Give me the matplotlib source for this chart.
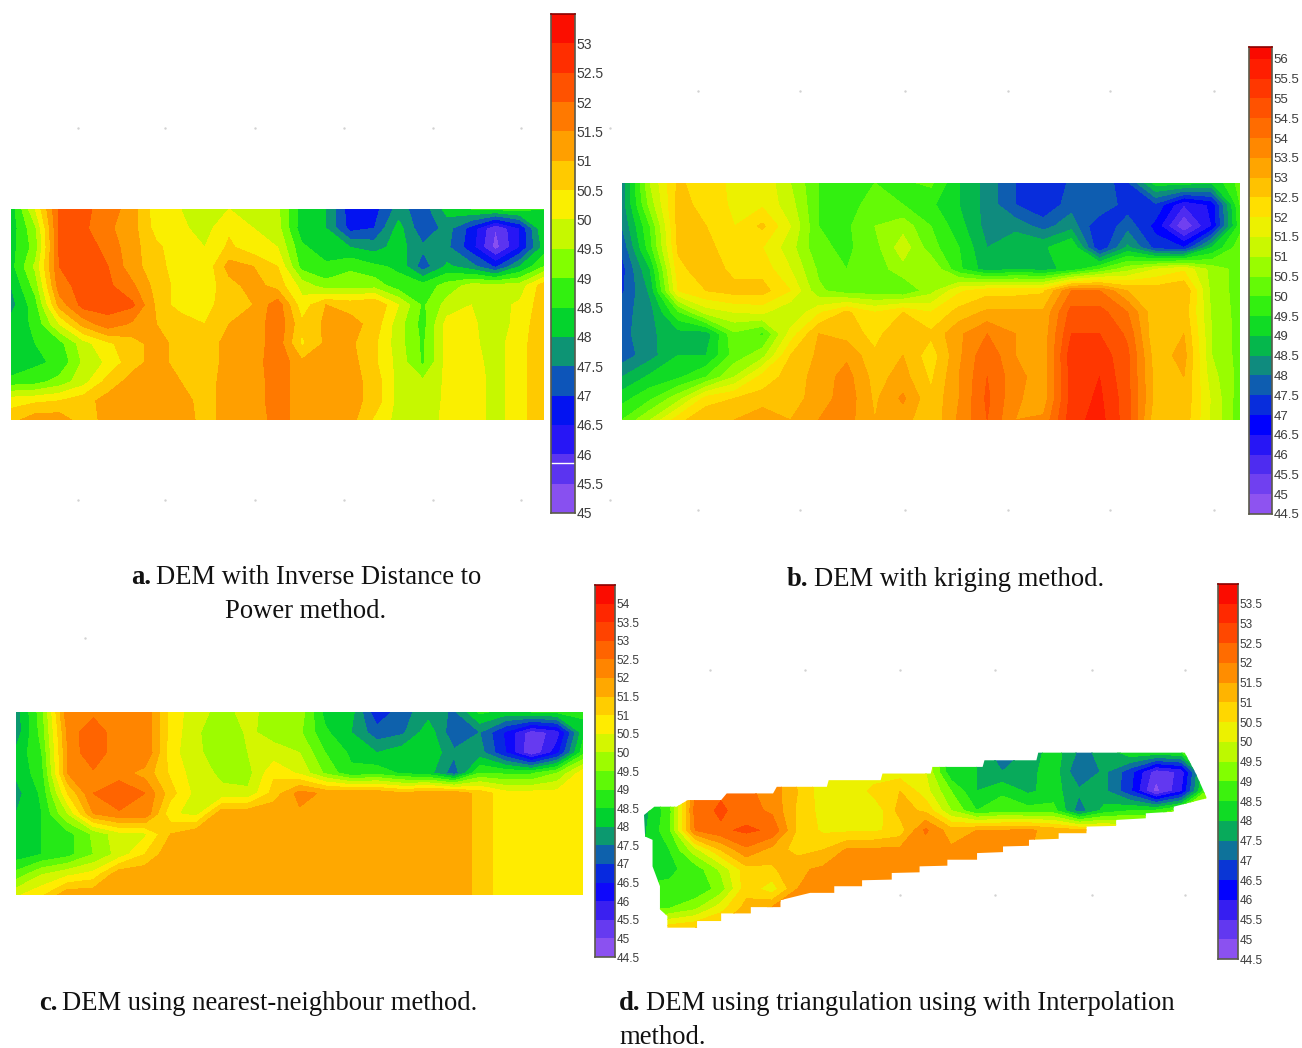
import numpy as np
import matplotlib
matplotlib.use("Agg")
import matplotlib.pyplot as plt
from matplotlib.colors import LinearSegmentedColormap, BoundaryNorm, ListedColormap
from matplotlib.patches import Polygon

W, H = 1302, 1048

# rampa de color, de bajo (morado) a alto (rojo)
ramp_colors = ["#9B5CF0", "#7040F0", "#3A20F0", "#0000FF", "#0D47C8", "#0F8A80",
               "#00D030", "#30F010", "#80FF00", "#C8F800", "#FFEE00", "#FFC400",
               "#FF9600", "#FF6E00", "#FF4500", "#FF2000", "#F80000"]
ramp = LinearSegmentedColormap.from_list("dem", ramp_colors)

# ==============================
# DATOS: elevacion
# ==============================
dem_a = np.array([
    [48.2, 50.0, 52.1, 52.1, 51.8, 51.2, 50.2, 50.0, 49.7, 50.0, 49.9, 49.6, 48.3, 48.0, 46.7, 46.8, 47.7, 47.2, 48.2, 48.5, 48.6, 48.7, 48.5],
    [48.2, 49.4, 52.1, 52.1, 51.6, 51.2, 50.3, 50.1, 49.8, 50.4, 50.0, 49.7, 48.2, 48.0, 46.8, 47.0, 48.2, 47.1, 47.7, 46.8, 45.5, 46.5, 48.5],
    [48.3, 49.2, 52.1, 52.3, 51.8, 51.2, 50.6, 50.2, 50.0, 50.6, 50.2, 50.0, 48.6, 48.2, 48.0, 47.8, 48.2, 47.6, 47.6, 46.7, 45.3, 46.5, 48.2],
    [48.3, 49.6, 52.0, 52.3, 52.0, 51.2, 50.7, 50.2, 50.1, 51.2, 51.0, 50.5, 48.8, 48.6, 48.9, 48.6, 48.4, 47.2, 48.1, 47.7, 46.9, 48.0, 49.0],
    [48.0, 49.2, 51.8, 52.2, 52.1, 51.6, 50.8, 50.3, 50.2, 50.8, 51.2, 50.8, 49.8, 49.2, 49.3, 49.3, 48.7, 48.7, 49.2, 49.7, 49.7, 49.7, 50.8],
    [47.8, 48.8, 51.2, 52.2, 52.2, 52.1, 50.9, 50.2, 50.3, 50.8, 51.0, 51.8, 50.2, 51.0, 50.8, 51.0, 50.0, 48.9, 49.7, 50.0, 49.8, 50.1, 50.8],
    [48.2, 48.6, 50.0, 51.2, 51.8, 51.4, 51.0, 50.9, 50.5, 51.0, 51.1, 51.9, 50.6, 51.1, 51.2, 50.8, 49.7, 48.8, 50.2, 50.1, 49.7, 50.2, 50.9],
    [48.3, 48.5, 48.8, 49.8, 50.4, 50.8, 51.2, 50.8, 50.7, 51.2, 51.2, 51.8, 50.4, 51.1, 51.1, 50.6, 49.7, 48.9, 50.2, 50.1, 49.8, 50.3, 50.9],
    [48.0, 48.4, 48.6, 49.6, 50.1, 50.8, 51.2, 50.8, 50.7, 51.2, 51.2, 51.9, 51.1, 51.1, 51.2, 50.6, 49.8, 48.9, 50.2, 50.2, 49.8, 50.3, 50.9],
    [48.7, 48.8, 49.2, 49.8, 50.7, 51.2, 51.3, 51.0, 50.8, 51.2, 51.2, 51.8, 51.2, 51.2, 51.2, 50.8, 49.8, 49.6, 50.1, 50.3, 49.8, 50.3, 50.9],
    [50.3, 50.4, 50.5, 50.8, 51.2, 51.2, 51.3, 51.2, 50.8, 51.2, 51.2, 51.8, 51.2, 51.2, 51.2, 50.8, 49.8, 49.7, 50.1, 50.3, 49.8, 50.3, 50.9],
    [50.8, 51.3, 51.3, 50.7, 51.2, 51.2, 51.3, 51.3, 50.8, 51.2, 51.2, 51.7, 51.3, 51.2, 51.2, 50.4, 49.8, 49.8, 50.1, 50.3, 49.8, 50.3, 50.9],
])

dem_b = np.array([
    [48.2, 51.0, 52.6, 52.2, 51.9, 51.9, 51.0, 50.0, 49.9, 50.0, 49.9, 50.1, 49.0, 48.3, 47.5, 47.0, 47.6, 47.6, 47.4, 49.2, 49.2, 49.0, 50.2],
    [48.2, 50.7, 52.7, 52.3, 51.9, 51.9, 51.2, 50.0, 49.9, 50.1, 50.0, 49.6, 49.0, 48.3, 47.5, 47.0, 47.8, 48.0, 47.2, 47.4, 46.0, 46.6, 50.0],
    [48.0, 50.0, 52.7, 52.5, 52.0, 52.6, 51.5, 50.0, 49.9, 50.5, 50.8, 50.0, 49.2, 48.3, 48.3, 47.8, 48.3, 47.0, 47.8, 46.8, 45.0, 46.5, 49.8],
    [47.6, 49.8, 52.6, 52.7, 52.1, 52.0, 51.2, 50.1, 49.9, 50.3, 51.3, 50.2, 49.5, 48.5, 49.0, 48.9, 49.5, 47.0, 48.6, 47.3, 47.0, 49.0, 50.3],
    [47.3, 49.0, 52.3, 52.9, 52.3, 52.3, 51.5, 50.4, 50.0, 50.2, 50.8, 51.0, 49.6, 48.7, 49.0, 48.8, 49.2, 50.0, 50.8, 51.5, 51.9, 50.8, 50.3],
    [47.4, 48.6, 52.0, 52.5, 52.7, 52.7, 52.0, 50.6, 50.2, 50.2, 50.0, 50.8, 51.9, 52.3, 52.3, 52.4, 54.0, 54.0, 53.0, 52.8, 53.0, 50.8, 50.3],
    [47.8, 48.3, 49.9, 51.2, 51.5, 51.6, 51.0, 51.9, 52.6, 52.0, 52.5, 52.0, 52.7, 53.1, 53.1, 53.1, 54.7, 54.7, 54.0, 52.6, 52.8, 50.9, 50.3],
    [47.8, 48.4, 48.8, 48.7, 50.4, 49.9, 51.7, 53.0, 52.8, 52.3, 53.0, 52.6, 53.4, 54.0, 53.5, 53.2, 55.0, 55.0, 54.4, 52.5, 53.0, 51.0, 50.3],
    [47.7, 48.3, 49.0, 49.0, 50.2, 50.8, 52.5, 53.1, 53.4, 52.6, 53.0, 52.2, 53.4, 54.4, 53.5, 53.2, 55.3, 55.3, 54.6, 52.7, 53.2, 51.0, 50.3],
    [48.5, 49.1, 49.4, 50.0, 51.0, 52.2, 52.7, 53.2, 53.7, 52.8, 53.2, 52.4, 53.5, 54.5, 53.7, 53.2, 55.2, 55.5, 54.6, 52.8, 53.0, 51.2, 50.3],
    [49.3, 49.9, 50.8, 52.2, 52.5, 52.7, 52.8, 53.2, 53.8, 52.9, 53.6, 52.6, 53.5, 54.6, 53.6, 53.2, 55.2, 55.6, 54.7, 52.8, 52.9, 51.4, 50.2],
    [50.0, 51.0, 52.3, 53.0, 53.0, 53.4, 53.0, 53.5, 53.7, 53.0, 53.2, 52.6, 53.6, 54.5, 53.5, 53.6, 55.3, 55.7, 54.7, 52.6, 52.8, 51.4, 50.2],
])

dem_c = np.array([
    [47.7, 49.3, 52.4, 52.3, 52.0, 52.4, 50.8, 50.2, 49.8, 50.2, 49.7, 49.8, 48.3, 48.2, 46.6, 47.3, 47.8, 47.4, 48.6, 48.3, 48.5, 48.6, 48.6],
    [47.7, 49.2, 52.1, 53.0, 52.0, 52.4, 50.8, 50.1, 49.5, 50.1, 49.8, 49.6, 48.6, 48.0, 47.2, 47.4, 48.3, 47.1, 47.5, 46.4, 45.2, 45.7, 48.3],
    [48.1, 49.0, 52.0, 53.0, 52.0, 52.5, 50.7, 50.1, 49.7, 50.0, 50.2, 50.0, 49.0, 48.4, 48.0, 48.3, 48.4, 47.6, 47.7, 46.5, 45.0, 46.3, 48.8],
    [48.1, 48.8, 52.0, 52.4, 52.2, 51.8, 50.9, 50.2, 49.9, 49.8, 50.9, 50.4, 49.4, 48.6, 48.8, 48.4, 48.2, 47.2, 49.0, 48.9, 48.9, 49.5, 50.8],
    [47.8, 48.6, 51.0, 52.5, 53.0, 52.5, 51.2, 50.3, 50.1, 50.1, 51.2, 52.2, 51.9, 51.9, 51.9, 51.6, 51.9, 51.9, 51.3, 50.7, 50.7, 50.7, 50.7],
    [48.0, 48.5, 50.0, 52.0, 52.4, 52.4, 50.6, 50.3, 51.9, 51.9, 51.9, 51.9, 51.9, 51.9, 51.9, 51.9, 51.9, 51.9, 51.3, 50.7, 50.7, 50.7, 50.7],
    [48.0, 48.5, 48.8, 49.6, 50.3, 50.4, 51.5, 51.9, 51.7, 51.9, 51.9, 51.9, 51.9, 51.9, 51.9, 51.9, 51.9, 51.9, 51.3, 50.7, 50.7, 50.7, 50.7],
    [48.2, 48.5, 48.8, 49.5, 50.2, 51.0, 51.9, 51.9, 51.9, 51.9, 51.9, 51.9, 51.9, 51.9, 51.9, 51.9, 51.9, 51.9, 51.3, 50.7, 50.7, 50.7, 50.7],
    [49.2, 50.0, 50.4, 50.7, 51.9, 51.9, 51.9, 51.9, 51.9, 51.9, 51.9, 51.9, 51.9, 51.9, 51.9, 51.9, 51.9, 51.9, 51.3, 50.7, 50.7, 50.7, 50.7],
    [50.4, 50.9, 51.9, 51.9, 51.9, 51.9, 51.9, 51.9, 51.9, 51.9, 51.9, 51.9, 51.9, 51.9, 51.9, 51.9, 51.9, 51.9, 51.3, 50.7, 50.7, 50.7, 50.7],
])

dem_d = np.array([
    [48.0, 49.0, 51.5, 52.0, 51.5, 50.8, 50.4, 50.4, 50.3, 50.3, 50.3, 50.0, 48.2, 48.0, 47.0, 47.6, 48.3, 47.4, 47.6, 48.4, 48.4, 48.5, 49.0],
    [48.0, 49.0, 51.7, 52.1, 52.0, 51.8, 50.8, 50.2, 50.0, 50.1, 50.2, 50.0, 48.1, 48.0, 47.5, 47.8, 48.3, 47.0, 47.6, 46.7, 45.2, 45.6, 48.8],
    [48.0, 49.2, 52.0, 52.4, 52.1, 51.8, 51.0, 50.2, 50.0, 50.7, 51.0, 50.2, 49.0, 48.0, 48.4, 47.9, 48.2, 47.6, 47.6, 46.6, 44.8, 45.9, 49.0],
    [47.8, 48.8, 52.2, 52.6, 52.2, 51.9, 50.9, 50.3, 50.2, 50.1, 51.2, 50.9, 49.5, 48.5, 48.8, 48.7, 48.7, 47.2, 48.2, 48.5, 48.6, 49.2, 50.5],
    [47.9, 48.9, 52.0, 52.4, 52.6, 52.4, 50.9, 50.4, 50.4, 50.4, 50.7, 52.1, 51.2, 51.5, 51.5, 51.6, 51.3, 51.1, 50.9, 50.5, 50.5, 50.5, 50.5],
    [48.0, 48.5, 49.8, 51.0, 51.9, 51.3, 50.8, 51.0, 51.6, 51.6, 51.6, 51.6, 51.6, 51.6, 51.6, 51.6, 51.0, 51.0, 51.0, 51.0, 51.0, 51.0, 51.0],
    [48.2, 48.4, 48.7, 49.6, 50.8, 50.9, 51.4, 51.6, 51.6, 51.6, 51.6, 51.6, 51.6, 51.6, 51.6, 51.6, 51.0, 51.0, 51.0, 51.0, 51.0, 51.0, 51.0],
    [48.6, 48.6, 48.6, 49.2, 50.8, 50.2, 51.5, 51.6, 51.6, 51.6, 51.6, 51.6, 51.6, 51.6, 51.6, 51.6, 51.0, 51.0, 51.0, 51.0, 51.0, 51.0, 51.0],
    [49.0, 49.0, 49.4, 50.3, 51.2, 51.6, 51.6, 51.6, 51.6, 51.6, 51.6, 51.6, 51.6, 51.6, 51.6, 51.6, 51.0, 51.0, 51.0, 51.0, 51.0, 51.0, 51.0],
    [50.3, 50.8, 51.0, 51.2, 51.4, 51.6, 51.6, 51.6, 51.6, 51.6, 51.6, 51.6, 51.6, 51.6, 51.6, 51.6, 51.0, 51.0, 51.0, 51.0, 51.0, 51.0, 51.0],
])

# contorno escalonado del panel d, en las unidades de la rejilla de dem_d
outline_d_x = [12, 40, 100, 130, 220, 235, 360, 370, 505, 510, 650, 655, 785, 790, 925, 930, 1070, 1075,
               1470, 1500, 1528, 1528, 1440, 1440, 1365, 1365, 1285, 1285, 1205, 1205, 1130, 1130, 1050,
               1050, 980, 980, 910, 910, 830, 830, 755, 755, 680, 680, 600, 600, 525, 525, 460, 380, 380,
               300, 300, 220, 220, 155, 155, 75, 75, 55, 55, 35, 35, 15]
outline_d_y = [225, 200, 200, 180, 180, 160, 160, 140, 140, 120, 120, 100, 100, 80, 80, 60, 60, 37,
               37, 100, 170, 175, 200, 215, 220, 235, 240, 258, 260, 280, 280, 297, 300,
               318, 320, 337, 340, 360, 360, 378, 380, 398, 400, 420, 422, 440, 440, 460, 460, 482, 503,
               503, 522, 522, 545, 545, 565, 565, 530, 510, 440, 380, 300, 290]

# niveles de las barras de color
levels_a = np.arange(45, 53.51, 0.5)
levels_b = np.arange(44.5, 56.51, 0.5)
levels_c = np.arange(44.5, 54.51, 0.5)
levels_d = np.arange(44.5, 54.01, 0.5)
ticks_a = np.arange(45, 53.01, 0.5)
ticks_b = np.arange(44.5, 56.01, 0.5)
ticks_c = np.arange(44.5, 54.01, 0.5)
ticks_d = np.arange(44.5, 53.51, 0.5)

# puntos grises tenues de la reticula alrededor de los mapas
dots_x = [78, 165, 255, 344, 433, 521, 78, 165, 255, 344, 433, 521,
          698, 800, 905, 1008, 1110, 1214, 698, 800, 905, 1008, 1110, 1214,
          85, 710, 805, 900, 995, 1092, 1185, 900, 995, 1092, 1185, 610, 610]
dots_y = [128, 128, 128, 128, 128, 128, 500, 500, 500, 500, 500, 500,
          91, 91, 91, 91, 91, 91, 510, 510, 510, 510, 510, 510,
          638, 670, 670, 670, 670, 670, 670, 895, 895, 895, 895, 128, 500]


# ==============================
# FUNCIONES
# ==============================
def box(x0, y0, x1, y1):
    # caja en pixeles de la imagen
    return fig.add_axes([x0 / W, 1 - y1 / H, (x1 - x0) / W, (y1 - y0) / H])


def band_colors(levels):
    return [ramp((i + 0.5) / (len(levels) - 1)) for i in range(len(levels) - 1)]


def draw_map(pix, dem, levels, xs=None, ys=None, clip=None):
    ax = box(*pix)
    if xs is None:
        xs = np.arange(dem.shape[1])
        ys = np.arange(dem.shape[0])
    cs = ax.contourf(xs, ys, dem, levels=levels, colors=band_colors(levels), extend="both")
    ax.set_xlim(xs[0], xs[-1])
    ax.set_ylim(ys[-1], ys[0])
    ax.axis("off")
    if clip is not None:
        poly = Polygon(np.column_stack(clip), closed=True, transform=ax.transData, fc="none", ec="none")
        ax.add_patch(poly)
        cs.set_clip_path(poly)
    return ax


def draw_bar(pix, levels, ticks, fs, top):
    ax = box(*pix)
    mids = (levels[:-1] + levels[1:]) / 2
    norm = BoundaryNorm(levels, len(mids))
    cmap = ListedColormap(band_colors(levels))
    ax.pcolormesh([0, 1], levels, mids[:, None], cmap=cmap, norm=norm)
    ax.set_ylim(levels[0], top)
    ax.set_xticks([])
    ax.yaxis.tick_right()
    ax.set_yticks(ticks)
    ax.set_yticklabels([f"{t:g}" for t in ticks], family=["Liberation Sans", "DejaVu Sans"],
                       fontsize=fs, color="#3c3c3c")
    ax.tick_params(axis="y", length=0, pad=1)
    for s in ax.spines.values():
        s.set_color("#5a5a4a")
        s.set_linewidth(1.2)
    ax.spines["top"].set_color("#8b0000")
    return ax


def caption(x, y, bold, rest):
    t = bg.text(x, y, bold, fontweight="bold", **cap_style)
    end = t.get_window_extent(fig.canvas.get_renderer()).x1
    bg.text(end + 5, y, rest, **cap_style)


# ==============================
# FIGURA
# ==============================
fig = plt.figure(figsize=(W / 100, H / 100), dpi=100, facecolor="white")
bg = fig.add_axes([0, 0, 1, 1])
bg.set_xlim(0, W)
bg.set_ylim(H, 0)
bg.axis("off")
bg.scatter(dots_x, dots_y, s=3, color="#d2d2d2", linewidths=0)

draw_map((11, 209, 544, 420), dem_a, levels_a)
bar_a = draw_bar((551, 14, 575, 513), levels_a, ticks_a, 10, 53.5)
bar_a.axhline(45.86, color="white", lw=1)

draw_map((622, 183, 1240, 420), dem_b, levels_b)
draw_bar((1249, 47, 1272, 514), levels_b, ticks_b, 9.5, 56.3)

draw_map((16, 712, 583, 895), dem_c, levels_c)
draw_bar((595, 585, 615, 957), levels_c, ticks_c, 8.5, 54.5)

xs_d = 12 + 69 * np.arange(dem_d.shape[1])
ys_d = 35 + 59 * np.arange(dem_d.shape[0])
draw_map((644, 752, 1207, 928), dem_d, levels_d, xs_d, ys_d, (outline_d_x, outline_d_y))
draw_bar((1218, 584, 1238, 959), levels_d, ticks_d, 8.5, 54)

# pies de figura
cap_style = dict(family=["Liberation Serif", "DejaVu Serif"], fontsize=19.2, color="#111111", va="center")
caption(131, 578, "a.", "DEM with Inverse Distance to")
bg.text(306, 611, "Power method.", ha="center", **cap_style)
caption(787, 580, "b.", "DEM with kriging method.")
caption(39, 1004, "c.", "DEM using nearest-neighbour method.")
caption(619, 1004, "d.", "DEM using triangulation using with Interpolation")
bg.text(619, 1037, "method.", **cap_style)

fig.savefig("out.png", dpi=100)
